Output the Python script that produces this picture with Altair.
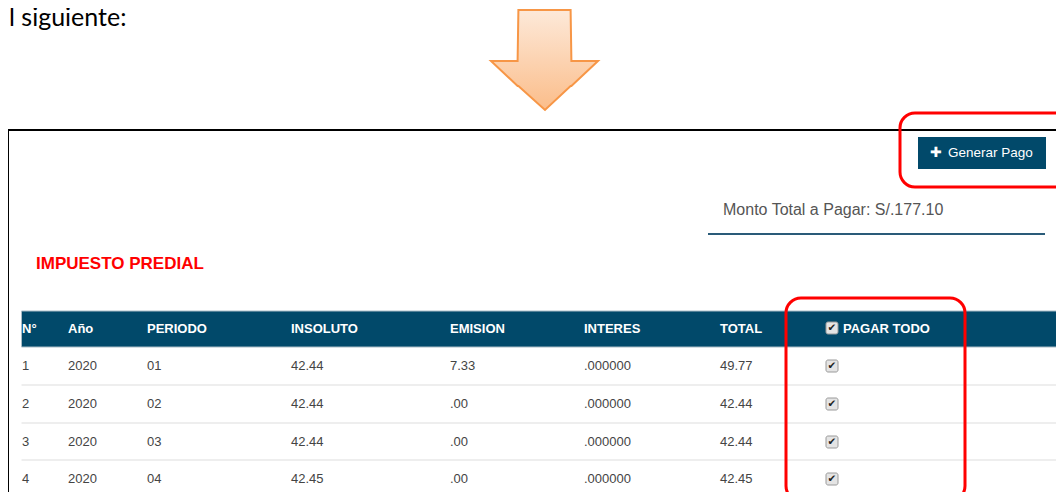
import altair as alt
import pandas as pd

# ---------------- content ----------------
intro_text = "l siguiente:"
button_icon = "✚"
button_label = "Generar Pago"
monto_label = "Monto Total a Pagar: S/.177.10"
section_title = "IMPUESTO PREDIAL"
headers = ["N°", "Año", "PERIODO", "INSOLUTO", "EMISION", "INTERES", "TOTAL", "PAGAR TODO"]
nro = ["1", "2", "3", "4"]
anio = ["2020", "2020", "2020", "2020"]
periodo = ["01", "02", "03", "04"]
insoluto = ["42.44", "42.44", "42.44", "42.45"]
emision = ["7.33", ".00", ".00", ".00"]
interes = [".000000", ".000000", ".000000", ".000000"]
total = ["49.77", "42.44", "42.44", "42.45"]
pagar = [True, True, True, True]
check_glyph = "✔"

# ---------------- layout (reference pixel coordinates) ----------------
col_x = [22, 68, 147, 291, 450, 584, 720, 843]
row_y = [366, 404, 442, 479]
header_y = 329
sep_y = [385, 423, 460]
check_x = 832
arrow_x = [491, 517.6, 518.4, 545, 570.6, 571.4, 598]
arrow_top = [61, 61, 10, 10, 10, 61, 61]
arrow_bot = [61, 86, 86, 110, 86, 86, 61]

XS = alt.Scale(domain=[8, 1056], range=[0, 1048])
YS = alt.Scale(domain=[8, 492], range=[0, 484])

TEAL = "#01496a"
SANS = "Liberation Sans"


def X(f="x"):
    return alt.X(f"{f}:Q", scale=XS, axis=None)


def Y(f="y"):
    return alt.Y(f"{f}:Q", scale=YS, axis=None)


def text_layer(df, **kw):
    base = dict(align="left", baseline="middle", font=SANS, clip=True)
    base.update(kw)
    return alt.Chart(df).mark_text(**base).encode(x=X(), y=Y(), text="t:N")


# ---------------- layers ----------------
# black frame
frame_df = pd.DataFrame({"x": [7, 8], "x2": [1070, 8], "y": [130, 130], "y2": [130, 510]})
frame = alt.Chart(frame_df).mark_rule(color="#000000", strokeWidth=2, clip=True).encode(
    x=X(), x2="x2:Q", y=Y(), y2="y2:Q")

# orange arrow
arrow_df = pd.DataFrame({"x": arrow_x, "y": arrow_top, "y2": arrow_bot})
arrow = alt.Chart(arrow_df).mark_area(
    orient="vertical",
    fill=alt.LinearGradient(gradient="linear",
                            stops=[alt.GradientStop(color="#fde9d9", offset=0),
                                   alt.GradientStop(color="#fbbd8a", offset=1)],
                            x1=0, x2=0, y1=0, y2=1),
    stroke="#f79646", strokeWidth=2, interpolate="linear", clip=True,
).encode(x=X(), y=Y(), y2="y2:Q")

intro = alt.Chart(pd.DataFrame({"x": [9], "y": [26], "t": [intro_text]})).mark_text(
    align="left", baseline="alphabetic", font="Lato", fontSize=25, color="#000000"
).encode(x=X(), y=Y(), text="t:N")

# button
btn_df = pd.DataFrame({"x": [918], "x2": [1046], "y": [137], "y2": [169]})
button = alt.Chart(btn_df).mark_rect(color=TEAL, clip=True).encode(x=X(), x2="x2:Q", y=Y(), y2="y2:Q")
btn_icon = text_layer(pd.DataFrame({"x": [930], "y": [153], "t": [button_icon]}),
                      font="DejaVu Sans", fontSize=14, color="#ffffff")
btn_text = text_layer(pd.DataFrame({"x": [948], "y": [153], "t": [button_label]}),
                      fontSize=13.5, color="#ffffff")

# monto total
monto = text_layer(pd.DataFrame({"x": [723], "y": [210], "t": [monto_label]}),
                   fontSize=16, color="#555555")
under_df = pd.DataFrame({"x": [708], "x2": [1045], "y": [234]})
underline = alt.Chart(under_df).mark_rule(color="#2a5b79", strokeWidth=2, clip=True).encode(
    x=X(), x2="x2:Q", y=Y())

title = text_layer(pd.DataFrame({"x": [36], "y": [264], "t": [section_title]}),
                   fontSize=17, fontWeight="bold", color="#ff0000")

# table header
hdr_df = pd.DataFrame({"x": [21.5], "x2": [1060], "y": [311], "y2": [347]})
header_band = alt.Chart(hdr_df).mark_rect(color=TEAL, stroke="#a9bcc6", strokeWidth=1, clip=True).encode(
    x=X(), x2="x2:Q", y=Y(), y2="y2:Q")
hdr_text = text_layer(pd.DataFrame({"x": col_x, "y": [header_y] * len(headers), "t": headers}),
                      fontSize=13, fontWeight="bold", color="#ffffff")

# separators
sep_df = pd.DataFrame({"x": [21.5] * len(sep_y), "x2": [1060] * len(sep_y), "y": sep_y})
seps = alt.Chart(sep_df).mark_rule(color="#dddddd", strokeWidth=1.2, clip=True).encode(
    x=X(), x2="x2:Q", y=Y())

# body cells
columns = [nro, anio, periodo, insoluto, emision, interes, total]
cells = []
for ci, col in enumerate(columns):
    for ri, v in enumerate(col):
        cells.append({"x": col_x[ci], "y": row_y[ri], "t": v})
body = text_layer(pd.DataFrame(cells), fontSize=13, color="#444444")

# checkboxes (header + rows)
cb_y = [header_y - 1] + [row_y[i] for i, p in enumerate(pagar) if p]
cb_df = pd.DataFrame({"x": [check_x - 6] * len(cb_y), "x2": [check_x + 6] * len(cb_y),
                      "y": [v - 6 for v in cb_y], "y2": [v + 6 for v in cb_y],
                      "cx": [check_x] * len(cb_y), "cy": cb_y, "t": [check_glyph] * len(cb_y)})
cb_box = alt.Chart(cb_df).mark_rect(fill="#e4e4e4", stroke="#9a9a9a", strokeWidth=1,
                                    cornerRadius=2, clip=True).encode(
    x=X(), x2="x2:Q", y=Y(), y2="y2:Q")
cb_check = alt.Chart(cb_df).mark_text(align="center", baseline="middle", font="DejaVu Sans",
                                      fontSize=10.5, color="#222222", clip=True).encode(
    x=X("cx"), y=Y("cy"), text="t:N")

# red highlight boxes
red_df = pd.DataFrame({"x": [900, 786], "x2": [1090, 965], "y": [113, 298], "y2": [187, 501]})
red = alt.Chart(red_df).mark_rect(fill=None, fillOpacity=0, stroke="#ff0000", strokeWidth=3,
                                  cornerRadius=15, clip=True).encode(
    x=X(), x2="x2:Q", y=Y(), y2="y2:Q")

chart = alt.layer(
    frame, arrow, intro, button, btn_icon, btn_text, monto, underline, title,
    header_band, hdr_text, seps, body, cb_box, cb_check, red,
).properties(
    width=1048, height=484, padding=0,
    autosize=alt.AutoSizeParams(type="none"),
    background="#ffffff",
).configure_view(strokeWidth=0)

chart.save("out.html", embed_options={"renderer": "svg", "actions": False})
